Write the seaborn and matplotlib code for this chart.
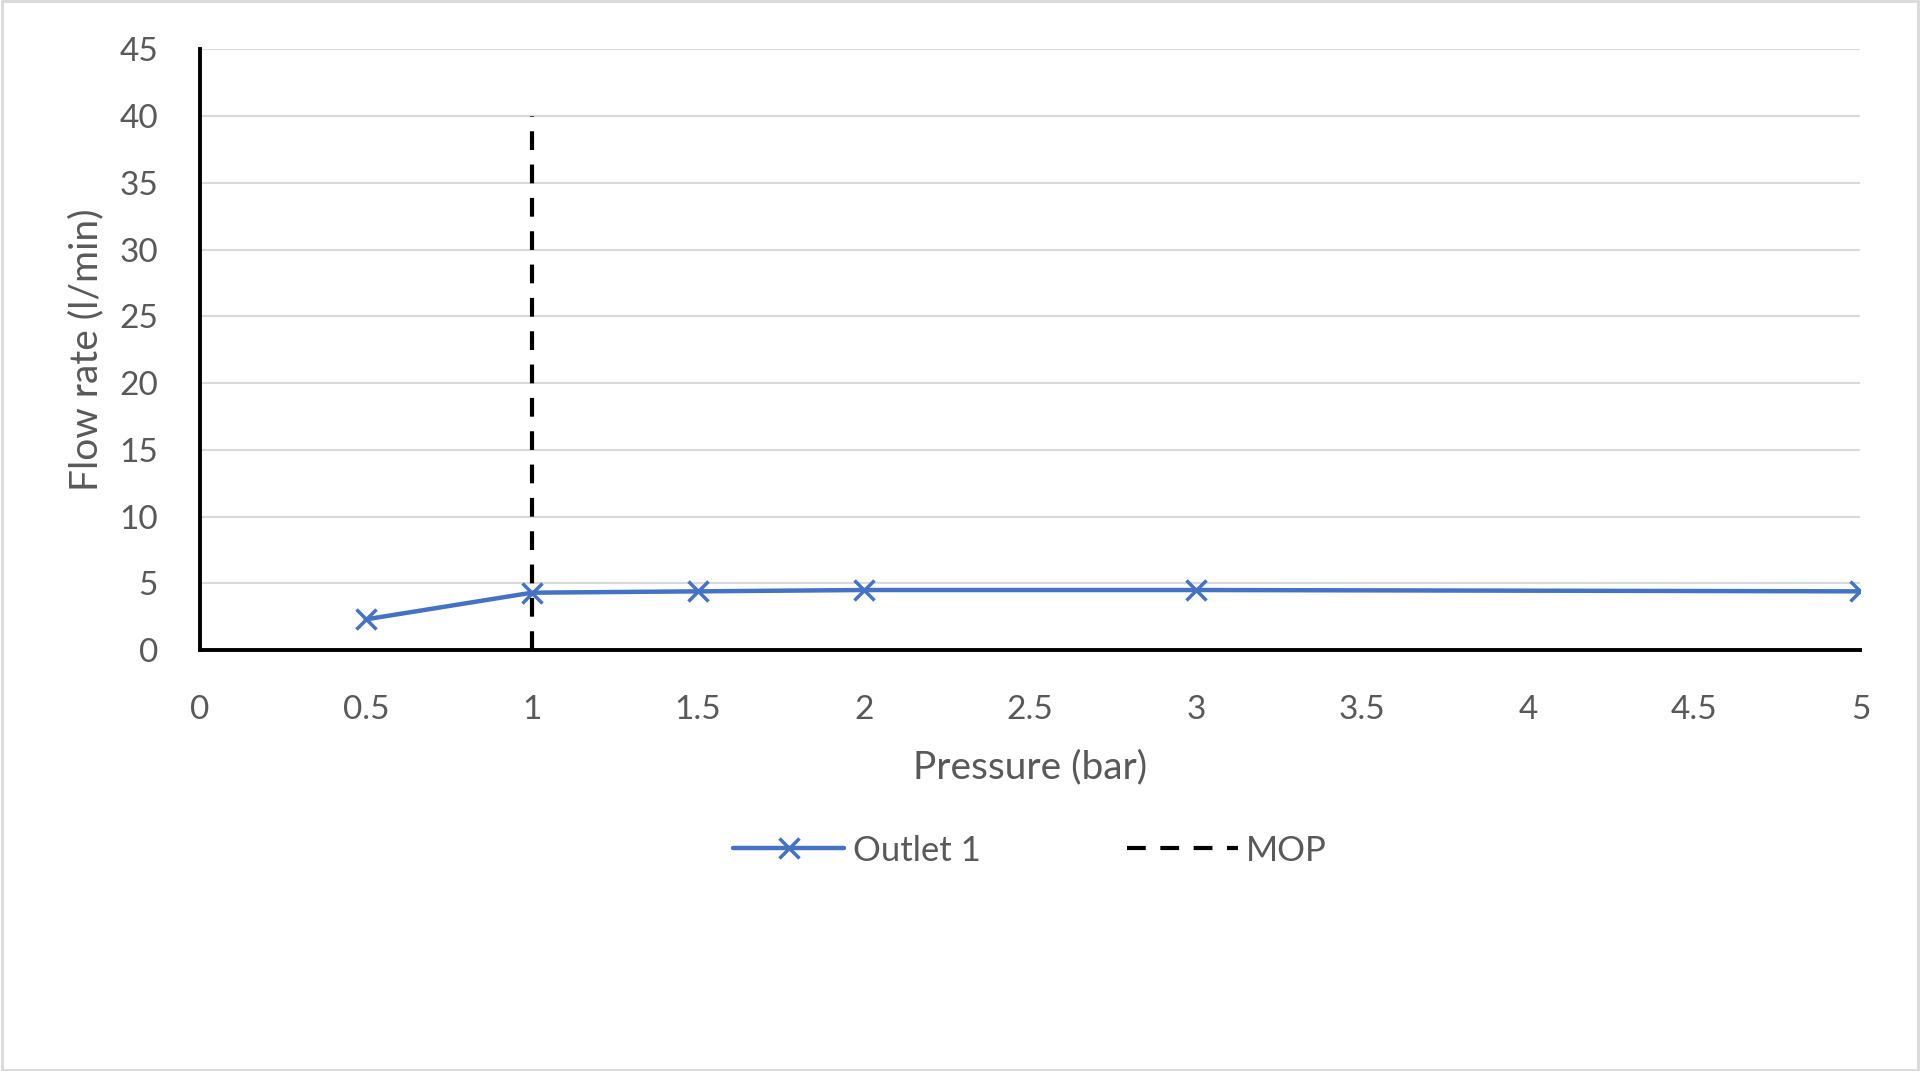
import pandas as pd
import matplotlib.pyplot as plt
import seaborn as sns

pressure = [0.5, 1, 1.5, 2, 3, 5]
outlet1 = [2.3, 4.3, 4.4, 4.5, 4.5, 4.4]
mop_x = [1, 1]
mop_y = [0, 40]
x_ticks = [0, 0.5, 1, 1.5, 2, 2.5, 3, 3.5, 4, 4.5, 5]
x_labels = ['0', '0.5', '1', '1.5', '2', '2.5', '3', '3.5', '4', '4.5', '5']
y_ticks = [0, 5, 10, 15, 20, 25, 30, 35, 40, 45]

df = pd.DataFrame({'Pressure': pressure, 'Outlet 1': outlet1})
mop = pd.DataFrame({'x': mop_x, 'y': mop_y})

sns.set_style('white')
plt.rcParams['font.family'] = ['Lato', 'DejaVu Sans']
grey = '#595959'

fig = plt.figure(figsize=(19.2, 10.71), dpi=100)
ax = fig.add_axes([0.104, 0.393, 0.865, 0.561])

sns.lineplot(data=df, x='Pressure', y='Outlet 1', ax=ax, color='#4472C4', linewidth=3.2,
             marker='x', markersize=14, markeredgewidth=2.5, markeredgecolor='#4472C4',
             label='Outlet 1', zorder=3)
sns.lineplot(data=mop, x='x', y='y', ax=ax, color='black', linewidth=3.0,
             estimator=None, sort=False, errorbar=None,
             linestyle=(0, (4.5, 3.5)), label='MOP', zorder=4)

ax.set_xlim(0, 5)
ax.set_ylim(0, 45)
ax.set_xticks(x_ticks)
ax.set_xticklabels(x_labels)
ax.set_yticks(y_ticks)
ax.grid(axis='y', color='#d9d9d9', linewidth=1.5)
ax.grid(axis='x', visible=False)
ax.set_axisbelow(True)
ax.tick_params(axis='both', length=0, labelsize=24, labelcolor=grey)
ax.tick_params(axis='x', pad=32)
ax.tick_params(axis='y', pad=30)

for side in ['top', 'right']:
    ax.spines[side].set_visible(False)
for side in ['left', 'bottom']:
    ax.spines[side].set_color('black')
    ax.spines[side].set_linewidth(2.8)

ax.set_xlabel('Pressure (bar)', fontsize=28, color=grey, labelpad=18)
ax.set_ylabel('Flow rate (l/min)', fontsize=28, color=grey, labelpad=11)

leg = ax.legend(loc='upper center', bbox_to_anchor=(0.5, -0.255), ncol=2, frameon=False,
                fontsize=25, handlelength=3.2, columnspacing=4.2, handletextpad=0.25)
for t in leg.get_texts():
    t.set_color(grey)

fig.patches.append(plt.Rectangle((0.001, 0.001), 0.998, 0.998, transform=fig.transFigure,
                                 fill=False, edgecolor='#d9d9d9', linewidth=2))

plt.savefig('out.png', dpi=100)
